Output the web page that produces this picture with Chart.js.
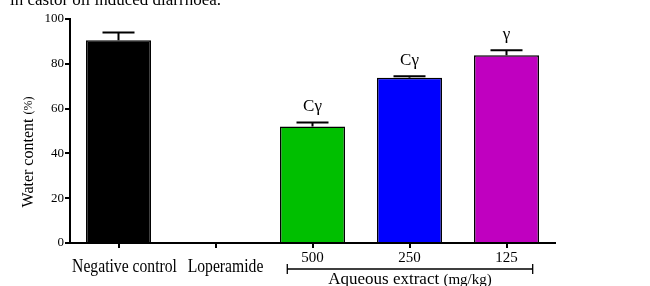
<!DOCTYPE html>
<html>
<head>
<meta charset="utf-8">
<script src="https://cdn.jsdelivr.net/npm/chart.js@4"></script>
<style>
  html, body { margin: 0; padding: 0; background: #fff; }
  #wrap { width: 650px; height: 286px; position: relative; }
</style>
</head>
<body>
<div id="wrap"><canvas id="chart" width="650" height="286"></canvas></div>
<script>
const categories = ["Negative control", "Loperamide", "500", "250", "125"];
const waterContent = [90.5, 0, 52, 73.8, 83.8];
const errorUp = [3.5, 0, 1.8, 0.6, 2.2];
const sigLetters = ["", "", "Cγ", "Cγ", "γ"];
const barColors = ["#000000", "#ffffff", "#00bf00", "#0000ff", "#c000c0"];
const yTicks = [0, 20, 40, 60, 80, 100];

const serif = "'Liberation Serif', 'DejaVu Serif', serif";

/* error bars, letters, x labels, bracket and cut-off caption */
const extras = {
    id: "extras",
    afterDraw(chart) {
        const ctx = chart.ctx;
        const x = chart.scales.x, y = chart.scales.y;
        const step = x.getPixelForValue(1) - x.getPixelForValue(0);

        ctx.save();
        ctx.strokeStyle = "#000";
        ctx.fillStyle = "#000";

        waterContent.forEach((v, i) => {
            if (!v) return;
            const cx = x.getPixelForValue(i);
            const top = y.getPixelForValue(v);
            const err = y.getPixelForValue(v + errorUp[i]);
            ctx.lineWidth = 2;
            ctx.beginPath();
            ctx.moveTo(cx, top);
            ctx.lineTo(cx, err);
            ctx.moveTo(cx - 16, err);
            ctx.lineTo(cx + 16, err);
            ctx.stroke();

            if (sigLetters[i]) {
                ctx.font = "17px " + serif;
                ctx.textAlign = "center";
                ctx.textBaseline = "alphabetic";
                ctx.fillText(sigLetters[i], cx, err - 11);
            }
        });

        // category labels: named groups sit lower than the doses
        ctx.textBaseline = "alphabetic";
        ctx.textAlign = "center";
        categories.forEach((c, i) => {
            const cx = x.getPixelForValue(i);
            if (i < 2) {
                ctx.save();
                ctx.translate(cx + (i === 0 ? 6 : 10), 272);
                ctx.scale(0.87, 1);
                ctx.font = "18px " + serif;
                ctx.fillText(c, 0, 0);
                ctx.restore();
            } else {
                ctx.font = "15px " + serif;
                ctx.fillText(c, cx, 262);
            }
        });

        // bracket under the extract doses
        const bx0 = x.getPixelForValue(2) - step * 0.26;
        const bx1 = x.getPixelForValue(4) + step * 0.27;
        const by = 269;
        ctx.lineWidth = 1.3;
        ctx.beginPath();
        ctx.moveTo(bx0, by);
        ctx.lineTo(bx1, by);
        ctx.moveTo(bx0, by - 5);
        ctx.lineTo(bx0, by + 5);
        ctx.moveTo(bx1, by - 5);
        ctx.lineTo(bx1, by + 5);
        ctx.stroke();

        const mid = (bx0 + bx1) / 2;
        const t1 = "Aqueous extract ", t2 = "(mg/kg)";
        ctx.font = "17px " + serif;
        const w1 = ctx.measureText(t1).width;
        ctx.font = "15px " + serif;
        const w2 = ctx.measureText(t2).width;
        const sx = mid - (w1 + w2) / 2;
        ctx.textAlign = "left";
        ctx.font = "17px " + serif;
        ctx.fillText(t1, sx, 284);
        ctx.font = "15px " + serif;
        ctx.fillText(t2, sx + w1, 284);

        // caption line cut off at the top
        ctx.font = "17px " + serif;
        ctx.fillText("in castor oil induced diarrhoea.", 10, 5);

        // y axis title
        ctx.translate(29, 152);
        ctx.rotate(-Math.PI / 2);
        ctx.textBaseline = "middle";
        const a1 = "Water content ", a2 = "(%)";
        ctx.font = "16px " + serif;
        const aw1 = ctx.measureText(a1).width;
        ctx.font = "12px " + serif;
        const aw2 = ctx.measureText(a2).width;
        const ax = -(aw1 + aw2) / 2;
        ctx.font = "16px " + serif;
        ctx.fillText(a1, ax, 0);
        ctx.font = "12px " + serif;
        ctx.fillText(a2, ax + aw1, 0);
        ctx.restore();
    }
};

new Chart(document.getElementById("chart"), {
    type: "bar",
    data: {
        labels: categories,
        datasets: [{
            data: waterContent,
            backgroundColor: barColors,
            borderColor: "#000",
            borderWidth: 1.5,
            borderSkipped: "bottom",
            barPercentage: 0.67,
            categoryPercentage: 1.0
        }]
    },
    options: {
        responsive: false,
        animation: false,
        layout: { padding: { top: 19, right: 95, left: 0, bottom: 0 } },
        plugins: {
            legend: { display: false },
            tooltip: { enabled: false }
        },
        scales: {
            x: {
                grid: {
                    display: true,
                    offset: false,
                    drawOnChartArea: false,
                    color: "#000",
                    tickLength: 5,
                    lineWidth: 2
                },
                border: { color: "#000", width: 2 },
                ticks: { display: false },
                afterFit(s) { s.height = 43; }
            },
            y: {
                min: 0,
                max: 100,
                afterBuildTicks(s) { s.ticks = yTicks.map(v => ({ value: v })); },
                grid: {
                    display: true,
                    drawOnChartArea: false,
                    color: "#000",
                    tickLength: 5,
                    lineWidth: 2
                },
                border: { color: "#000", width: 2 },
                ticks: {
                    color: "#000",
                    font: { family: serif, size: 13 },
                    padding: 1
                },
                afterFit(s) { s.width = 70; }
            }
        }
    },
    plugins: [extras]
});
</script>
</body>
</html>
